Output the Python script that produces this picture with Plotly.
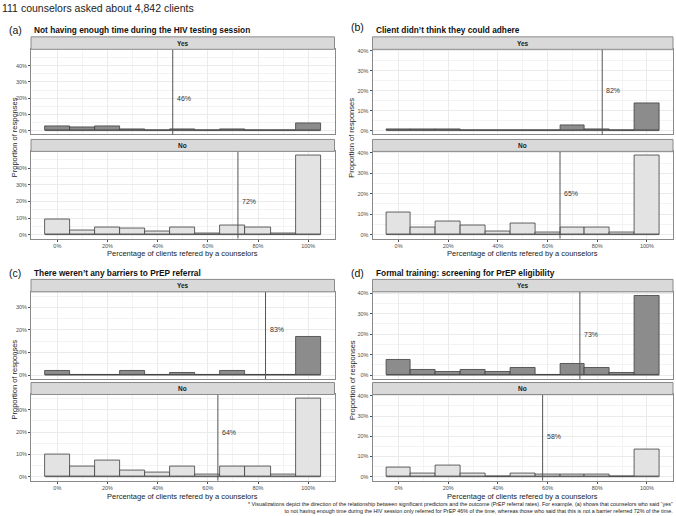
import plotly.graph_objects as go

W, H = 676, 516
N_TOTAL = 111  # counselors

# ---------------- data ----------------
bins = [0, 10, 20, 30, 40, 50, 60, 70, 80, 90, 100]
x_tick_vals = [0, 20, 40, 60, 80, 100]
x_tick_text = ["0%", "20%", "40%", "60%", "80%", "100%"]
y_tick_vals = [0, 10, 20, 30, 40]
y_tick_text = ["0%", "10%", "20%", "30%", "40%"]

panel_letters = ["(a)", "(b)", "(c)", "(d)"]
panel_titles = [
    "Not having enough time during the HIV testing session",
    "Client didn\u2019t think they could adhere",
    "There weren\u2019t any barriers to PrEP referral",
    "Formal training: screening for PrEP eligibility",
]
facet_names = ["Yes", "No"]

# counts of counselors per referral-rate bin
a_yes = [3, 2, 3, 1, 0, 1, 0, 1, 0, 0, 5]
a_no = [10, 3, 5, 4, 2, 5, 1, 6, 5, 1, 53]
b_yes = [1, 1, 1, 0, 0, 0, 0, 3, 1, 0, 15]
b_no = [12, 4, 7, 5, 2, 6, 1, 4, 4, 1, 43]
c_yes = [2, 0, 0, 2, 0, 1, 0, 2, 0, 0, 19]
c_no = [11, 5, 8, 3, 2, 5, 1, 5, 5, 1, 39]
d_yes = [8, 3, 2, 3, 2, 4, 0, 6, 4, 1, 43]
d_no = [5, 2, 6, 2, 0, 2, 1, 1, 1, 0, 15]

mean_yes = [46, 82, 83, 73]
mean_no = [72, 65, 64, 58]

counts = [(a_yes, a_no), (b_yes, b_no), (c_yes, c_no), (d_yes, d_no)]
means = list(zip(mean_yes, mean_no))

main_title = "111 counselors asked about 4,842 clients"
x_title = "Percentage of clients refered by a counselors"
y_title = "Proportion of responses"
footnote = ("* Visualizations depict the direction of the relationship between significant predictors and the outcome (PrEP referral rates). For example, (a) shows that counselors who said \u201cyes\u201d<br>"
            "to not having enough time during the HIV session only referred for PrEP 46% of the time, whereas those who said that this is not a barrier referred 72% of the time.")

# ---------------- style / geometry ----------------
FONT = "Liberation Sans, Arial, sans-serif"
fills = ["#8C8C8C", "#E3E3E3"]
outline = "#3D3D3D"
border = "#8A8A8A"
grid = "#EBEBEB"

col_x = [(31, 334.5), (372.5, 673)]
ytitle_x = [14.5, 352]
row_geo = [
    dict(strips=[(35, 47.5), (138, 150)], plots=[(47.5, 133), (150, 237.5)], title_y=28, xtitle_y=252),
    dict(strips=[(278.5, 291), (382, 394)], plots=[(291, 378.5), (394, 480.5)], title_y=272, xtitle_y=496),
]

def px_x(v):
    return v / W

def px_y(v):
    return 1 - v / H

fig = go.Figure()
shapes = []
annotations = []
layout_axes = {}

for p in range(4):
    col, row = p % 2, p // 2
    x0, x1 = col_x[col]
    geo = row_geo[row]
    pcts = [[c / N_TOTAL * 100 for c in cs] for cs in counts[p]]
    ymax = max(max(pcts[0]), max(pcts[1]))
    yr = [-0.05 * ymax, 1.05 * ymax]
    yt = [v for v in y_tick_vals if v <= yr[1]]
    ytt = [t for v, t in zip(y_tick_vals, y_tick_text) if v <= yr[1]]
    ym = [v for v in [5, 15, 25, 35, 45] if v <= yr[1]]

    for f in range(2):
        k = p * 2 + f + 1
        xa = "x" if k == 1 else f"x{k}"
        ya = "y" if k == 1 else f"y{k}"
        xkey = "xaxis" if k == 1 else f"xaxis{k}"
        ykey = "yaxis" if k == 1 else f"yaxis{k}"
        py0, py1 = geo["plots"][f]
        bottom = (f == 1)

        layout_axes[xkey] = dict(
            domain=[px_x(x0), px_x(x1)], anchor=ya, range=[-10.5, 110.5],
            tickvals=x_tick_vals, ticktext=x_tick_text, showticklabels=bottom,
            ticks="outside" if bottom else "", ticklen=2, tickcolor="#4D4D4D", tickwidth=0.7,
            tickfont=dict(size=5.5, color="#4D4D4D", family=FONT),
            showgrid=True, gridcolor=grid, gridwidth=0.8,
            minor=dict(tickvals=[10, 30, 50, 70, 90], showgrid=True, gridcolor="#F3F3F3", gridwidth=0.5, ticks=""),
            zeroline=False, showline=True, mirror=True, linecolor=border, linewidth=1,
            fixedrange=True,
        )
        layout_axes[ykey] = dict(
            domain=[px_y(py1), px_y(py0)], anchor=xa, range=yr,
            tickvals=yt, ticktext=ytt, ticks="outside", ticklen=2, tickcolor="#4D4D4D", tickwidth=0.7,
            tickfont=dict(size=5.5, color="#4D4D4D", family=FONT),
            showgrid=True, gridcolor=grid, gridwidth=0.8,
            minor=dict(tickvals=ym, showgrid=True, gridcolor="#F3F3F3", gridwidth=0.5, ticks=""),
            zeroline=False, showline=True, mirror=True, linecolor=border, linewidth=1,
            fixedrange=True,
        )

        # zero-height baseline (ggplot draws empty bins as flat outlines)
        fig.add_trace(go.Scatter(
            x=[bins[0] - 5, bins[-1] + 5], y=[0, 0], mode="lines",
            line=dict(color=outline, width=0.8), xaxis=xa, yaxis=ya,
            showlegend=False, hoverinfo="skip"))
        fig.add_trace(go.Bar(
            x=bins, y=pcts[f], width=10,
            marker=dict(color=fills[f], line=dict(color=outline, width=0.8)),
            xaxis=xa, yaxis=ya, showlegend=False, hoverinfo="skip"))

        m = means[p][f]
        shapes.append(dict(type="line", xref=xa, yref=f"{ya} domain", x0=m, x1=m, y0=0, y1=1,
                           line=dict(color="#555555", width=1)))
        annotations.append(dict(x=m, y=20, xref=xa, yref=ya, text=f"{m}%", showarrow=False,
                                xanchor="left", yanchor="middle", xshift=2,
                                font=dict(size=7, color="#333333", family=FONT)))

        # strip
        sy0, sy1 = geo["strips"][f]
        shapes.append(dict(type="rect", xref="paper", yref="paper",
                           x0=px_x(x0), x1=px_x(x1), y0=px_y(sy1), y1=px_y(sy0),
                           fillcolor="#D9D9D9", line=dict(color=border, width=1), layer="above"))
        annotations.append(dict(x=px_x((x0 + x1) / 2), y=px_y((sy0 + sy1) / 2), xref="paper", yref="paper",
                                text=f"<b>{facet_names[f]}</b>", showarrow=False,
                                xanchor="center", yanchor="middle",
                                font=dict(size=6.5, color="#1A1A1A", family=FONT)))

    # panel letter and title
    letter_x = 7 if col == 0 else 349.5
    annotations.append(dict(x=px_x(letter_x), y=px_y(geo["title_y"] - (3 if p == 1 else 0)), xref="paper", yref="paper",
                            text=panel_letters[p], showarrow=False, xanchor="left", yanchor="middle",
                            font=dict(size=10.5, color="#111111", family=FONT)))
    annotations.append(dict(x=px_x(x0 + 1), y=px_y(geo["title_y"]), xref="paper", yref="paper",
                            text=f"<b>{panel_titles[p]}</b>", showarrow=False, xanchor="left", yanchor="middle",
                            font=dict(size=8.3, color="#111111", family=FONT)))
    # axis titles
    annotations.append(dict(x=px_x((x0 + x1) / 2), y=px_y(geo["xtitle_y"]), xref="paper", yref="paper",
                            text=x_title, showarrow=False, xanchor="center", yanchor="middle",
                            font=dict(size=7.5, color="#222222", family=FONT)))
    yc = (geo["strips"][0][0] + geo["plots"][1][1]) / 2
    annotations.append(dict(x=px_x(ytitle_x[col]), y=px_y(yc), xref="paper", yref="paper",
                            text=y_title, showarrow=False, textangle=-90, xanchor="center", yanchor="middle",
                            font=dict(size=7.5, color="#222222", family=FONT)))

annotations.append(dict(x=0, y=px_y(6), xref="paper", yref="paper", text=main_title, showarrow=False,
                        xanchor="left", yanchor="middle", font=dict(size=10.5, color="#222222", family=FONT)))
annotations.append(dict(x=px_x(675), y=px_y(507), xref="paper", yref="paper", text=footnote, showarrow=False,
                        xanchor="right", yanchor="middle", align="right",
                        font=dict(size=5.4, color="#222222", family=FONT)))

fig.update_layout(
    width=W, height=H, margin=dict(l=0, r=0, t=0, b=0),
    paper_bgcolor="white", plot_bgcolor="white",
    showlegend=False, bargap=0, barmode="overlay",
    shapes=shapes, annotations=annotations,
    **layout_axes,
)

fig.write_html("out.html")
